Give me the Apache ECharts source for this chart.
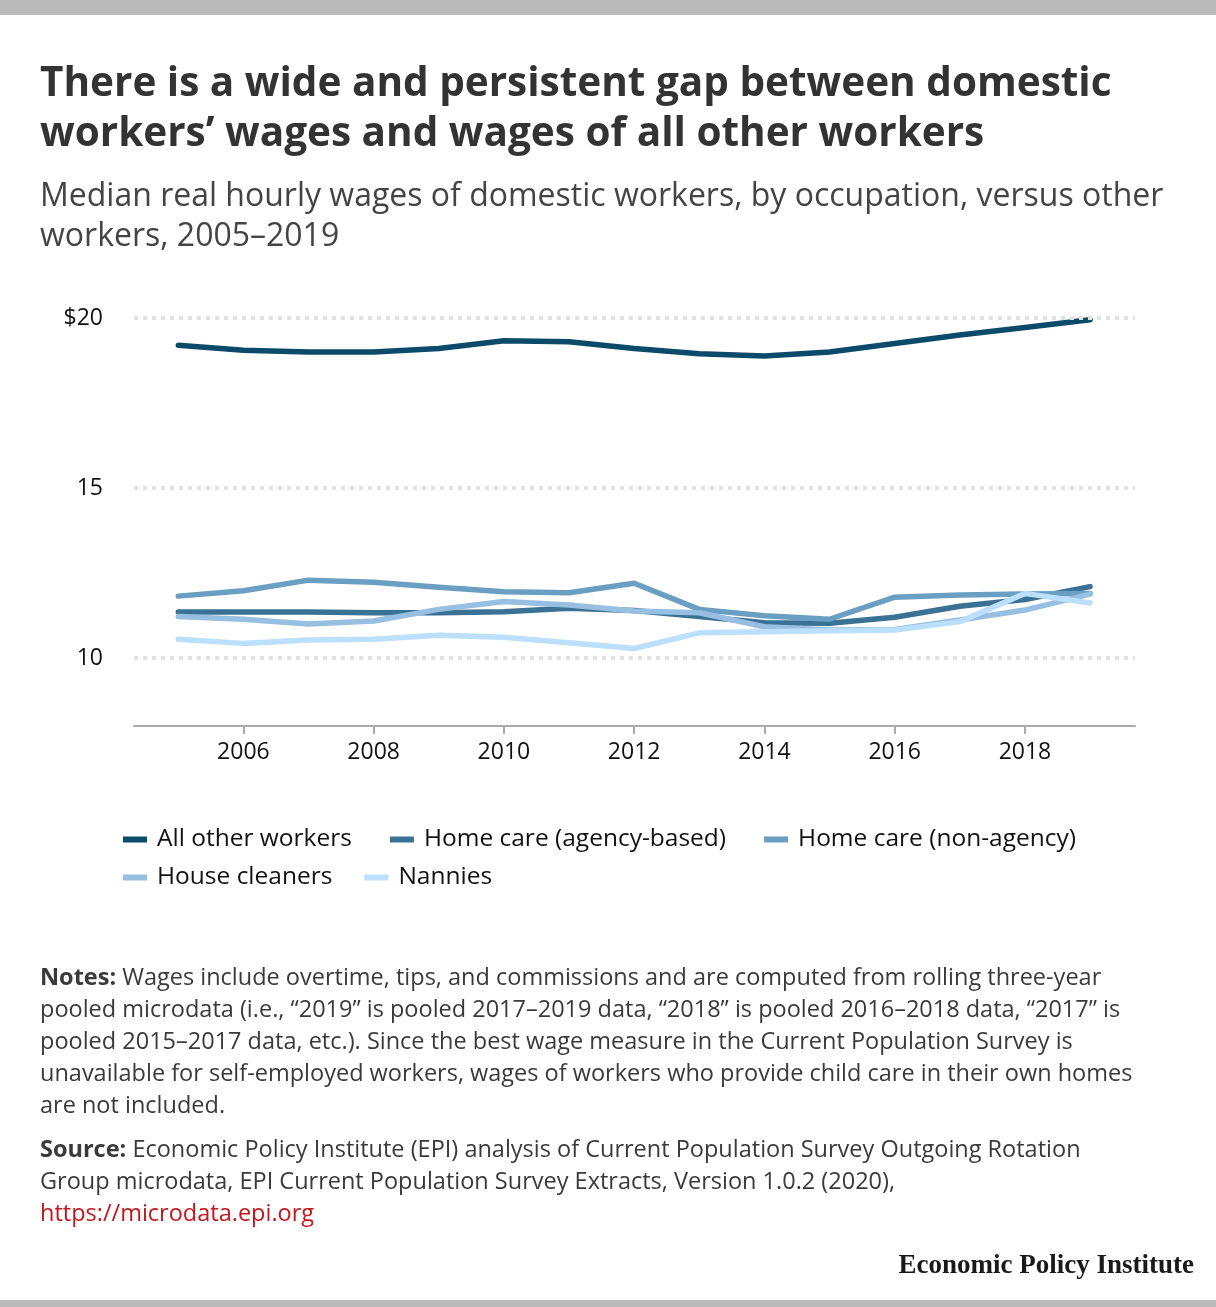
<!DOCTYPE html>
<html>
<head>
<meta charset="utf-8">
<script src="https://cdn.jsdelivr.net/npm/echarts@6/dist/echarts.min.js"></script>
<style>
html,body{margin:0;padding:0;background:#fff;}
#c{width:1216px;height:1307px;}
</style>
</head>
<body>
<div id="c"></div>
<script>
const years = [2005,2006,2007,2008,2009,2010,2011,2012,2013,2014,2015,2016,2017,2018,2019];
const allOther = [19.2,19.05,19.0,19.0,19.1,19.33,19.3,19.1,18.95,18.88,19.0,19.25,19.5,19.72,19.95];
const homeAgency = [11.35,11.35,11.35,11.33,11.33,11.36,11.46,11.4,11.22,11.04,11.02,11.2,11.52,11.72,12.1];
const homeNonAgency = [11.82,11.98,12.29,12.23,12.08,11.95,11.92,12.2,11.43,11.24,11.14,11.79,11.85,11.88,11.9];
const houseCleaners = [11.22,11.14,11.0,11.09,11.43,11.66,11.56,11.38,11.33,10.92,10.82,10.84,11.12,11.41,11.88];
const nannies = [10.55,10.43,10.53,10.55,10.67,10.61,10.45,10.28,10.74,10.77,10.8,10.82,11.07,11.9,11.62];
const seriesNames = ['All other workers','Home care (agency-based)','Home care (non-agency)','House cleaners','Nannies'];
const xTickLabels = [2006,2008,2010,2012,2014,2016,2018];
const yTickLabels = [10,15,20];

const colors = ['#0b4a6b','#3b7194','#6a9ec2','#97bfe1','#bcdffd'];
const FONT = '"Open Sans"';
const seriesValues = [allOther, homeAgency, homeNonAgency, houseCleaners, nannies];

const chart = echarts.init(document.getElementById('c'));

const lineSeries = seriesNames.map((n,i)=>({
  name:n, type:'line', z:3,
  data: years.map((y,j)=>[y, seriesValues[i][j]]),
  symbol:'none', lineStyle:{width:5.5, color:colors[i], cap:'round', join:'round'},
  itemStyle:{color:colors[i]}, emphasis:{disabled:true}
}));

const notesText = [
  '{b|Notes:} Wages include overtime, tips, and commissions and are computed from rolling three-year',
  'pooled microdata (i.e., \u201c2019\u201d is pooled 2017\u20132019 data, \u201c2018\u201d is pooled 2016\u20132018 data, \u201c2017\u201d is',
  'pooled 2015\u20132017 data, etc.). Since the best wage measure in the Current Population Survey is',
  'unavailable for self-employed workers, wages of workers who provide child care in their own homes',
  'are not included.'
];
const sourceText = [
  '{b|Source:} Economic Policy Institute (EPI) analysis of Current Population Survey Outgoing Rotation',
  'Group microdata, EPI Current Population Survey Extracts, Version 1.0.2 (2020),',
  '{r|https://microdata.epi.org}'
];

const graphics = [
  {type:'rect', left:0, top:0, shape:{width:1216,height:15}, style:{fill:'#bbbbbb'}},
  {type:'rect', left:0, top:1300, shape:{width:1216,height:7}, style:{fill:'#bbbbbb'}},
  {type:'text', left:40, top:59, style:{text:'There is a wide and persistent gap between domestic\nworkers\u2019 wages and wages of all other workers', font:'bold 40.5px '+FONT, fill:'#333', lineHeight:50}},
  {type:'text', left:40, top:177, style:{text:'Median real hourly wages of domestic workers, by occupation, versus other\nworkers, 2005\u20132019', font:'32px '+FONT, fill:'#444', lineHeight:40}},
  {type:'text', left:40, top:962, style:{text:notesText.join('\n'), font:'23.5px '+FONT, fill:'#3a3a3a', lineHeight:32, rich:{b:{font:'bold 23.5px '+FONT, fill:'#3a3a3a', lineHeight:32}}}},
  {type:'text', left:40, top:1134, style:{text:sourceText.join('\n'), font:'23.5px '+FONT, fill:'#3a3a3a', lineHeight:32, rich:{b:{font:'bold 23.5px '+FONT, fill:'#3a3a3a', lineHeight:32}, r:{font:'23.5px '+FONT, fill:'#c4161c', lineHeight:32}}}},
  {type:'text', right:22, top:1253, style:{text:'Economic Policy Institute', font:'bold 27px "Liberation Serif"', fill:'#1a1a1a'}}
];

chart.setOption({
  animation:false,
  backgroundColor:'#fff',
  grid:{left:134, right:81, top:318, bottom:581, containLabel:false},
  xAxis:{
    type:'value', min:2004.32, max:2019.69,
    axisLine:{show:true, lineStyle:{color:'#aaaaaa', width:2}},
    axisTick:{show:true, length:8, lineStyle:{color:'#aaaaaa', width:2}, customValues:xTickLabels},
    axisLabel:{customValues:xTickLabels, fontFamily:'"Open Sans"', fontSize:23, color:'#111', margin:15, formatter:v=>String(v)},
    splitLine:{show:false}
  },
  yAxis:{
    type:'value', min:8, max:20,
    axisLine:{show:false}, axisTick:{show:false},
    axisLabel:{customValues:yTickLabels, fontFamily:'"Open Sans"', fontSize:23, color:'#111', margin:31, formatter:v=> v===20?'$20':String(v)},
    splitLine:{show:false}
  },
  legend:[
    {data:seriesNames.slice(0,3), left:118, top:822, itemWidth:24, itemHeight:6, itemGap:38, icon:'rect',
     textStyle:{fontFamily:'"Open Sans"', fontSize:24.5, color:'#111', padding:[0,0,0,5]}},
    {data:seriesNames.slice(3), left:118, top:860, itemWidth:24, itemHeight:6, itemGap:32, icon:'rect',
     textStyle:{fontFamily:'"Open Sans"', fontSize:24.5, color:'#111', padding:[0,0,0,5]}}
  ],
  series:[
    {type:'line', name:'grid', data:[], z:1, silent:true,
     markLine:{silent:true, symbol:'none', label:{show:false},
       lineStyle:{color:'#e2e2e2', width:4, type:[4,5]},
       data: yTickLabels.map(v=>({yAxis:v}))}}
  ].concat(lineSeries),
  graphic:graphics
});
</script>
</body>
</html>
